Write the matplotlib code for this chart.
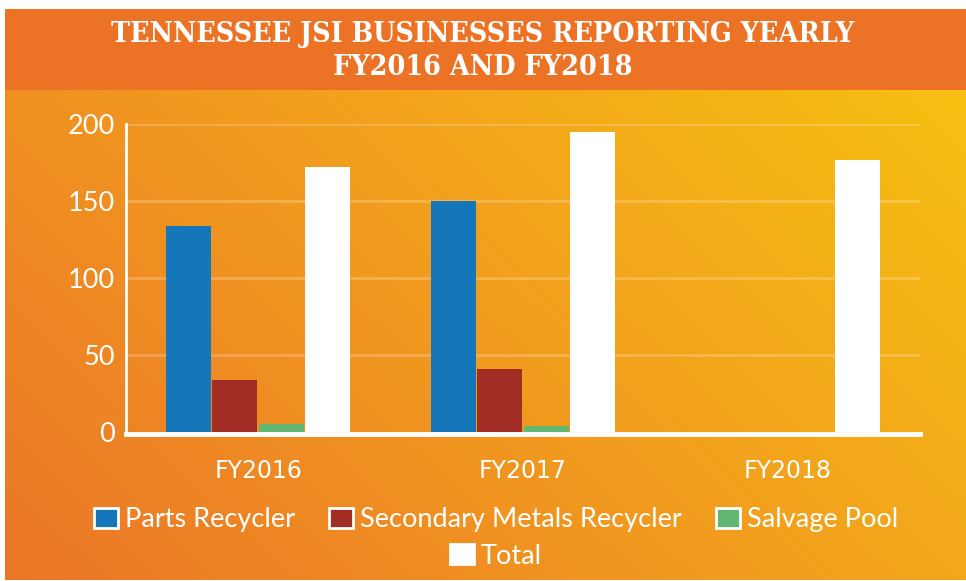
import numpy as np
import matplotlib
matplotlib.use("Agg")
import matplotlib.pyplot as plt
from matplotlib.patches import Patch, Rectangle

# ---- data ----
categories = ["FY2016", "FY2017", "FY2018"]
parts_recycler = [134, 150, 0]
secondary_metals = [34, 41, 0]
salvage_pool = [5, 4, 0]
total = [172, 195, 177]
series_names = ["Parts Recycler", "Secondary Metals Recycler", "Salvage Pool", "Total"]
series_colors = ["#1576B9", "#A12D24", "#62B873", "#FFFFFF"]
y_ticks = [0, 50, 100, 150, 200]
title_text = "TENNESSEE JSI BUSINESSES REPORTING YEARLY\nFY2016 AND FY2018"

W, H = 966, 581
fig = plt.figure(figsize=(W / 100, H / 100), dpi=100, facecolor="white")

# ---- background gradient ----
bg = fig.add_axes([0, 0, 1, 1], zorder=-10)
bg.set_xlim(0, W)
bg.set_ylim(H, 0)
bg.axis("off")
nx, ny = 200, 120
gx = np.linspace(0, 1, nx)[None, :]
gy = np.linspace(0, 1, ny)[:, None]  # 0 top, 1 bottom
t = np.clip(0.62 * gx + 0.38 * (1 - gy), 0, 1)
stops = np.array([[235, 118, 40], [242, 158, 30], [247, 196, 16]]) / 255.0
img = np.zeros((ny, nx, 3))
for c in range(3):
    img[..., c] = np.interp(t, [0, 0.5, 1], stops[:, c])
bg.imshow(img, extent=(5, W, 580, 9), aspect="auto", interpolation="bilinear")
bg.add_patch(Rectangle((5, 9), W - 5, 81, color="#EC7325", lw=0))

fig.text(0.5, 1 - 51 / H, title_text, ha="center", va="center", color="white",
         fontsize=20.5, family="DejaVu Serif", stretch="condensed",
         weight="bold", linespacing=1.25)

# ---- main axes ----
left, right = 125.7, 920
bottom, top = 432, 124.3
ax = fig.add_axes([left / W, 1 - bottom / H, (right - left) / W, (bottom - top) / H])
ax.set_facecolor("none")

x = np.arange(len(categories))
step = 0.175
bw = 0.17
all_series = [parts_recycler, secondary_metals, salvage_pool, total]
for i, (vals, col) in enumerate(zip(all_series, series_colors)):
    ax.bar(x + (i - 1.5) * step, vals, width=bw, color=col, zorder=3, linewidth=0)

ax.set_xlim(-0.5, 2.5)
ax.set_ylim(0, 200)
ax.set_yticks(y_ticks)
ax.set_xticks(x)
ax.set_xticklabels(categories)
ax.tick_params(axis="y", length=0, pad=8, labelsize=19.5, labelcolor="white")
ax.tick_params(axis="x", length=0, pad=18, labelsize=17, labelcolor="white")
for lab in ax.get_xticklabels() + ax.get_yticklabels():
    lab.set_family("Lato")

for yv in y_ticks[1:]:
    ax.axhline(yv, color="white", alpha=0.22, lw=2, zorder=1)

for s in ["top", "right"]:
    ax.spines[s].set_visible(False)
ax.spines["left"].set_color("white")
ax.spines["left"].set_linewidth(2)
ax.spines["bottom"].set_color("white")
ax.spines["bottom"].set_linewidth(3.5)
ax.spines["bottom"].set_position(("outward", 1.6))
ax.spines["bottom"].set_zorder(5)

# ---- legend ----
handles = [Patch(facecolor=c, edgecolor="white", linewidth=2) for c in series_colors]
common = dict(frameon=False, prop={"family": "Lato", "size": 19.5}, labelcolor="white",
              handlelength=0.9, handleheight=0.72, handletextpad=0.25,
              borderpad=0, borderaxespad=0)
leg1 = fig.legend(handles[:3], series_names[:3], loc="center",
                  bbox_to_anchor=(496 / W, 1 - 520 / H), ncol=3,
                  columnspacing=1.25, **common)
leg2 = fig.legend(handles[3:], series_names[3:], loc="center",
                  bbox_to_anchor=(496 / W, 1 - 556 / H), ncol=1, **common)

fig.savefig("out.png", dpi=100, facecolor="white")
